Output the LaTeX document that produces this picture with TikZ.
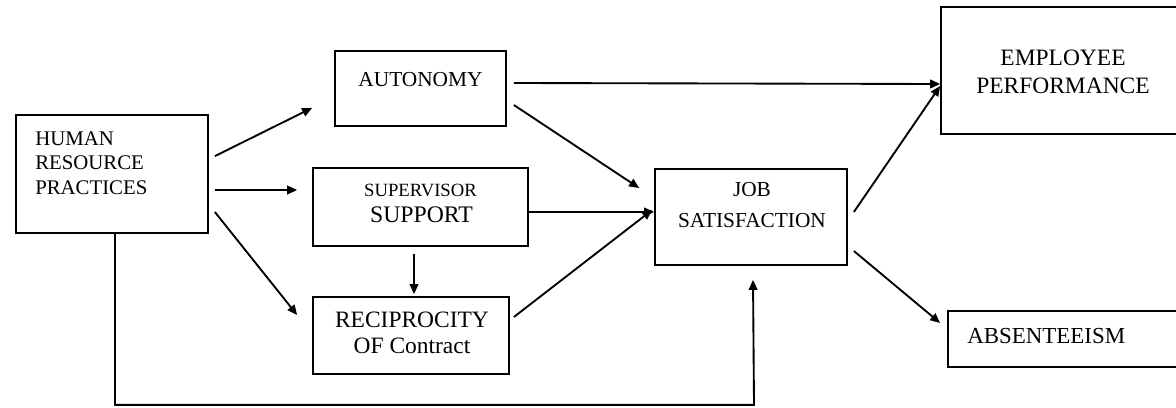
\documentclass[tikz,border=0pt]{standalone}
\usepackage{fontspec}
\setmainfont{Liberation Serif}
\usetikzlibrary{fit,calc,arrows.meta}
\begin{document}
\begin{tikzpicture}[x=0.75pt,y=-0.75pt]
\tikzstyle{box} = [draw, line width=1.3pt, inner sep=0pt]
\tikzstyle{txt} = [inner sep=0pt, anchor=north, align=center]
\tikzstyle{arr} = [draw, line width=1.4pt, -{Triangle[length=7.5pt,width=6.5pt]}]
\useasboundingbox (0,0) rectangle (1176,407);
% boxes
\node[box, fit={(16,115) (208,233)}] (hrp) {};
\node[box, fit={(335,51) (506,126)}] (aut) {};
\node[box, fit={(313,168) (528,246)}] (sup) {};
\node[box, fit={(313,297) (509,374)}] (rec) {};
\node[box, fit={(655,169) (847,265)}] (job) {};
\node[box, fit={(941,7) (1190,134)}] (emp) {};
\node[box, fit={(948,311) (1190,367)}] (abs) {};
% texts
\node[txt, anchor=north west, align=left, font=\fontsize{15.6}{18.5}\selectfont] (hrp-t) at (35,131) {HUMAN\\RESOURCE\\PRACTICES};
\node[txt, font=\fontsize{16}{18}\selectfont] (aut-t) at (420.5,72) {AUTONOMY};
\node[txt, font=\fontsize{14}{16}\selectfont] (sup-a) at (420.5,184) {SUPERVISOR};
\node[txt, font=\fontsize{17.8}{20}\selectfont] (sup-b) at (421.5,207) {SUPPORT};
\node[txt, font=\fontsize{17.6}{19}\selectfont] (rec-t) at (412,312) {RECIPROCITY\\OF Contract};
\node[txt, font=\fontsize{16}{23}\selectfont] (job-t) at (752,182) {JOB\\SATISFACTION};
\node[txt, font=\fontsize{17.6}{21}\selectfont] (emp-t) at (1063,50) {EMPLOYEE\\PERFORMANCE};
\node[txt, anchor=north west, font=\fontsize{17.2}{20}\selectfont] (abs-t) at (967,328) {ABSENTEEISM};
% arrows
\path[arr] ($(hrp.north east)+(6,42)$) -- ($(aut.south west)+(-22,-19)$);
\path[arr] ($(hrp.east)+(6,16)$) -- ($(sup.west)+(-15,-17)$);
\path[arr] ($(hrp.east)+(6,38)$) -- ($(rec.west)+(-15,-20.5)$);
\path[arr] ($(aut.east)+(7,-5.5)$) -- ($(emp.west)+(0,13.5)$);
\path[arr] ($(aut.east)+(7,16.5)$) -- ($(job.west)+(-15,-29)$);
\path[arr] ($(sup.east)+(0,5)$) -- ($(job.west)+(0,-5)$);
\path[arr] ($(rec.east)+(4,-18.5)$) -- ($(job.west)+(-2,-7)$);
\path[arr] ($(sup.south)+(-6.5,7)$) -- ($(rec.north)+(3,-2)$);
\path[arr] ($(job.east)+(6,-5)$) -- ($(emp.west)+(0,15.5)$);
\path[arr] ($(job.east)+(6,34)$) -- ($(abs.west)+(-7,-16)$);
\path[arr] ($(hrp.south)+(3,0)$) |- ($(job.south)+(3,139)$) -- ($(job.south)+(2,14)$);
\end{tikzpicture}
\end{document}
